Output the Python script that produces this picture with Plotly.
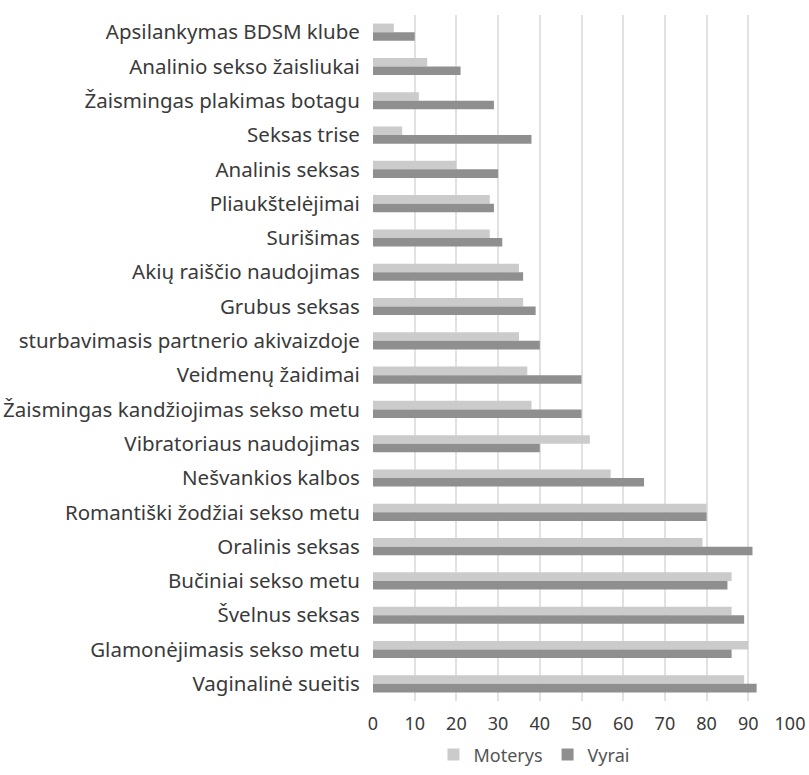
import plotly.graph_objects as go

categories = [
    "Apsilankymas BDSM klube",
    "Analinio sekso žaisliukai",
    "Žaismingas plakimas botagu",
    "Seksas trise",
    "Analinis seksas",
    "Pliaukštelėjimai",
    "Surišimas",
    "Akių raiščio naudojimas",
    "Grubus seksas",
    "sturbavimasis partnerio akivaizdoje",
    "Veidmenų žaidimai",
    "Žaismingas kandžiojimas sekso metu",
    "Vibratoriaus naudojimas",
    "Nešvankios kalbos",
    "Romantiški žodžiai sekso metu",
    "Oralinis seksas",
    "Bučiniai sekso metu",
    "Švelnus seksas",
    "Glamonėjimasis sekso metu",
    "Vaginalinė sueitis",
]
moterys = [5, 13, 11, 7, 20, 28, 28, 35, 36, 35, 37, 38, 52, 57, 80, 79, 86, 86, 90, 89]
vyrai = [10, 21, 29, 38, 30, 29, 31, 36, 39, 40, 50, 50, 40, 65, 80, 91, 85, 89, 86, 92]
x_ticks = [0, 10, 20, 30, 40, 50, 60, 70, 80, 90, 100]

fig = go.Figure()
fig.add_trace(go.Bar(y=categories, x=moterys, name="Moterys", orientation="h",
                     marker=dict(color="#cbcbcb", line=dict(width=0))))
fig.add_trace(go.Bar(y=categories, x=vyrai, name="Vyrai", orientation="h",
                     marker=dict(color="#8f8f8f", line=dict(width=0))))

fig.update_layout(
    width=809, height=775,
    margin=dict(l=373, r=19, t=15, b=74),
    paper_bgcolor="white", plot_bgcolor="white",
    barmode="group", bargap=0.5, bargroupgap=0,
    font=dict(family="Noto Sans", color="#3a3a3a", size=17),
    showlegend=True,
    legend=dict(orientation="h", x=0.386, xanchor="center",
                yref="container", y=0.026, yanchor="middle",
                font=dict(size=18, color="#555555"), itemwidth=30, traceorder="normal"),
    xaxis=dict(range=[0, 100], tickvals=x_ticks, showgrid=True, gridcolor="#e2e2e2",
               gridwidth=1.5, zeroline=False, showline=False, ticks="outside",
               ticklen=6, tickcolor="rgba(0,0,0,0)", automargin=False,
               tickfont=dict(size=18, color="#3a3a3a")),
    yaxis=dict(autorange="reversed", showgrid=False, ticks="outside", ticklen=8,
               tickcolor="rgba(0,0,0,0)", automargin=False,
               tickfont=dict(size=20.5, color="#3a3a3a")),
)
fig.write_html("out.html", config={"displayModeBar": False},
               post_script="document.body.style.margin='0px';document.body.style.overflow='hidden';")
